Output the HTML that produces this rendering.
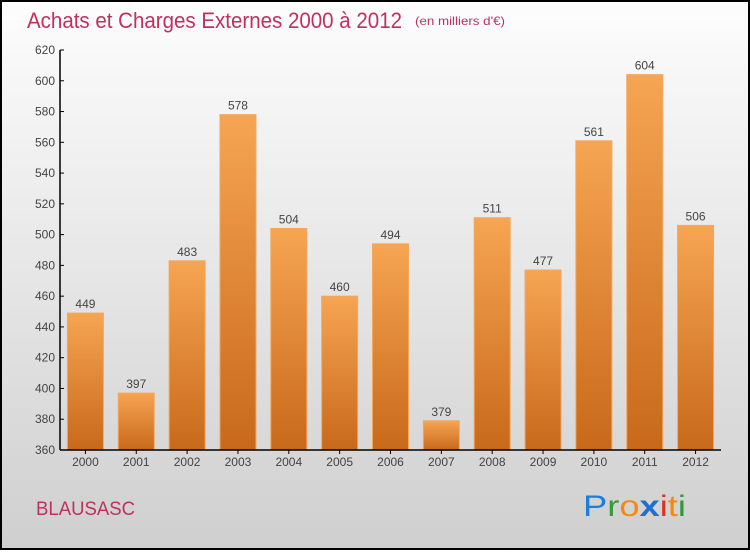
<!DOCTYPE html>
<html><head><meta charset="utf-8"><style>
html,body{margin:0;padding:0;}
body{width:750px;height:550px;overflow:hidden;font-family:"Liberation Sans",sans-serif;}
</style></head><body>
<svg width="750" height="550" xmlns="http://www.w3.org/2000/svg">
<defs>
<linearGradient id="bg" x1="0" y1="0" x2="0" y2="1"><stop offset="0" stop-color="#fdfdfd"/><stop offset="1" stop-color="#cfcfcf"/></linearGradient>
<linearGradient id="bar" x1="0" y1="0" x2="0" y2="1"><stop offset="0" stop-color="#f6a552"/><stop offset="1" stop-color="#c8691a"/></linearGradient>
</defs>
<rect x="1" y="1" width="748" height="548" fill="url(#bg)" stroke="#000" stroke-width="2"/>
<text x="27" y="28" font-size="22" fill="#c0305e" textLength="375" lengthAdjust="spacingAndGlyphs">Achats et Charges Externes 2000 à 2012</text>
<text x="415" y="25" font-size="12" fill="#c0305e" textLength="90" lengthAdjust="spacingAndGlyphs">(en milliers d'€)</text>
<text x="36" y="515" font-size="19" fill="#c0305e" textLength="99" lengthAdjust="spacingAndGlyphs">BLAUSASC</text>
<g font-size="30" font-family="'Liberation Sans',sans-serif">
<text x="583" y="516" textLength="103" lengthAdjust="spacingAndGlyphs"><tspan fill="#1e7fd8">P</tspan><tspan fill="#3a9a3a">r</tspan><tspan fill="#f28a10">o</tspan><tspan fill="#1e6fd0" font-weight="bold">x</tspan><tspan fill="#e03020">i</tspan><tspan fill="#f28a10">t</tspan><tspan fill="#2a9a3a">i</tspan></text>
</g>
<g id="plot"></g>
</svg>
<script>
const categories=["2000","2001","2002","2003","2004","2005","2006","2007","2008","2009","2010","2011","2012"];
const values=[449,397,483,578,504,460,494,379,511,477,561,604,506];
const yTicks=[360,380,400,420,440,460,480,500,520,540,560,580,600,620];
const NS="http://www.w3.org/2000/svg";
const x0=60,x1=721,yTop=50,yBot=450,vMin=360,vMax=620;
const band=(x1-x0)/categories.length;
function y(v){return yBot-(v-vMin)/(vMax-vMin)*(yBot-yTop);}
function xc(i){return x0+band*(i+0.5);}
const g=document.getElementById('plot');
function mk(t,a,txt){const e=document.createElementNS(NS,t);for(const k in a)e.setAttribute(k,a[k]);if(txt!==undefined)e.textContent=txt;g.appendChild(e);return e;}
values.forEach((v,i)=>{
  const r=mk('rect',{x:xc(i)-18,y:y(v),width:36,height:yBot-y(v),fill:'url(#bar)',stroke:'#f3a860','stroke-width':1});
  
  
  const t=mk('text',{x:xc(i),y:y(v)-5,'font-size':12,fill:'#444','text-anchor':'middle'},String(v));
  
  
  const c=mk('text',{x:xc(i),y:466,'font-size':12,fill:'#444','text-anchor':'middle'},categories[i]);
  
  
  const tk=mk('line',{x1:xc(i),x2:xc(i),y1:yBot,y2:yBot+4,stroke:'#000'});
  
  
});
yTicks.forEach(v=>{
  const t=mk('text',{x:55,y:y(v)+4,'font-size':12,fill:'#444','text-anchor':'end'},String(v));
  
  
  const l=mk('line',{x1:x0,x2:x0+4,y1:y(v),y2:y(v),stroke:'#000'});
  
  
});
const ya=mk('line',{x1:x0,x2:x0,y1:yTop,y2:yBot,stroke:'#000','stroke-width':1.5});


const xa=mk('line',{x1:x0,x2:x1,y1:yBot,y2:yBot,stroke:'#000','stroke-width':1.5});


</script>
</body></html>
